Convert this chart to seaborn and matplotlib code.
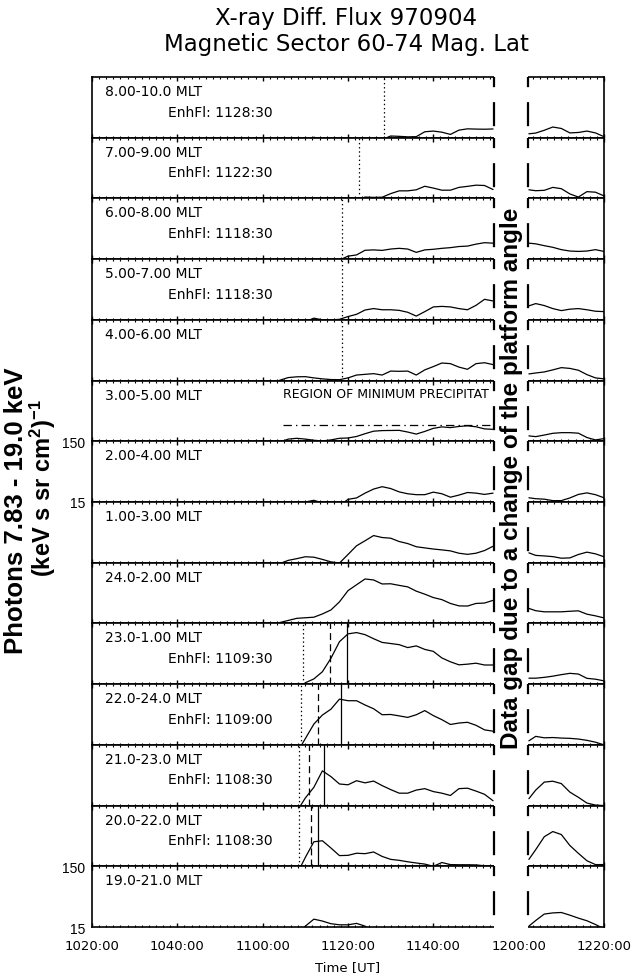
import numpy as np
import pandas as pd
import seaborn as sns
import matplotlib
matplotlib.use("Agg")
import matplotlib.pyplot as plt
from matplotlib import transforms
from matplotlib.lines import Line2D
from matplotlib.patches import Rectangle
from matplotlib.ticker import MultipleLocator, FuncFormatter, NullLocator

# tiempo en minutos desde las 10:00 UT
t_pre = [60, 62, 64, 66, 68, 70, 72, 74, 76, 78, 80, 82, 84, 86,
         88, 90, 92, 94, 96, 98, 100, 102, 104, 106, 108, 110, 112, 114]
t_post = [122.4, 124, 126, 128, 130, 132, 134, 136, 138, 140]
gap_start, gap_end = 114.3, 122.2   # hueco de datos (cambio de plataforma)

# flujo de fotones por sector MLT (primero antes del hueco, luego despues)
f_08_10 = [10, 10, 10, 10, 10, 10, 15.3, 14, 10, 10, 10, 10, 10, 10, 14, 16, 15.8, 15.5, 15.6, 18.8, 19.3, 18.5, 17, 20, 21, 20.8, 20.7, 20.9,
           17.4, 17.9, 19.9, 22.5, 21.3, 18, 18.3, 19.3, 18, 15.6]
f_07_09 = [10, 10, 10, 10, 10, 10, 15.3, 10, 10, 10, 10, 14, 15.8, 15.6, 15.7, 18, 20, 20, 20.8, 23.8, 22.2, 20.5, 20.5, 22.8, 23.7, 24.8, 24.5, 21,
           20.8, 20.1, 20.4, 22.8, 21.7, 17.8, 15.8, 19.4, 19, 16.5]
f_06_08 = [10, 10, 10, 10, 10, 10, 10, 10, 10, 14.5, 16.8, 17.6, 21, 21.3, 20.9, 22, 22.6, 22, 19.4, 21.3, 21.8, 22.6, 23.2, 24.2, 24.6, 26.5, 28, 27.5,
           27.5, 26.8, 25, 23.5, 21.5, 20.4, 20.1, 20.4, 21.5, 20.1]
f_05_07 = [10, 10, 10, 10, 10, 14, 16, 15, 15, 15.3, 17, 18.5, 21.8, 23, 22, 22, 21.5, 20, 17.3, 20.5, 24.5, 25, 24.5, 23, 22, 26, 32.7, 30.7,
           25.5, 27.8, 25.8, 23, 21.3, 22.5, 23, 22, 20.8, 20.5]
f_04_06 = [10, 10, 15.2, 16.8, 17.3, 17.4, 16.6, 16, 15.6, 15.5, 16.6, 18.5, 19, 19.5, 18.5, 21.5, 21.3, 21.5, 18.5, 22.5, 25.5, 29.2, 28.5, 25, 23, 28.5, 29.5, 27.5,
           19.3, 20, 20.8, 22.5, 24.5, 23.8, 22.2, 18.8, 16.6, 16]
f_03_05 = [10, 10, 14.5, 16.3, 16.8, 16.3, 15.6, 15.2, 15.8, 16.8, 17, 18, 20, 22, 22.5, 22.6, 22.7, 21.3, 19.7, 21.8, 24.5, 25.9, 25.2, 26.3, 27, 26, 24, 23.6,
           18.4, 17.9, 19, 20.3, 20.8, 20.8, 20.4, 17.3, 15.8, 16.6]
f_02_04 = [10, 10, 10, 10, 10, 15, 16, 14.5, 10, 13, 16.6, 17.5, 21, 24.5, 26.8, 25, 22, 20.5, 19.8, 19.8, 21.8, 20.5, 18, 19.5, 21.5, 21, 20, 21,
           17.6, 17, 16.7, 15.8, 15.8, 17.5, 20, 21.2, 19.8, 17.6]
f_01_03 = [10, 10, 14.5, 16.4, 17.5, 18.8, 18.5, 17, 15.5, 14.8, 20.5, 28.5, 34.5, 42, 39, 38, 33.5, 31, 27.5, 26.3, 25.2, 24.4, 23.5, 21.5, 20.6, 21.5, 23.8, 28,
           21.8, 19.8, 19.4, 18.9, 17.8, 18, 20.5, 22.4, 21, 18.8]
f_24_02 = [10, 10, 15.5, 16.8, 18.2, 18.6, 19, 21.5, 25, 34, 52, 65, 81, 78, 67, 67.5, 63.5, 60, 51, 45.5, 40, 37, 32, 29.2, 29, 32, 32.5, 36,
           26.5, 24.3, 23.3, 23.3, 23.3, 23.8, 24.2, 21.3, 20, 18.5]
f_23_01 = [10, 10, 10, 10, 12, 15.8, 18.3, 24, 40, 75, 101, 106, 98, 84, 73, 70, 67, 60, 64, 56, 52, 40.5, 35, 31.2, 32, 33.2, 31, 31,
           18.8, 18.8, 19.4, 20.3, 21.5, 22.6, 22, 18.7, 18.1, 17]
f_22_24 = [10, 10, 10, 10, 11, 19, 33, 46.5, 58, 85, 80, 80, 68, 59, 47, 47.5, 45, 42.5, 47, 55, 45.5, 39, 32.5, 34.3, 35.3, 31.5, 26.5, 25.2,
           17.5, 20.7, 19.6, 19.8, 19.4, 19.2, 18.7, 17.8, 16.6, 15]
f_21_23 = [10, 10, 10, 10, 12, 20, 30, 56, 45, 34, 33, 38.5, 35.5, 38, 32, 27.5, 24, 24, 27, 28.5, 25.5, 24, 22, 28.5, 29, 26, 23, 18,
           19.5, 27, 36.5, 37.8, 34.5, 25, 20.5, 16.5, 15.3, 15]
f_20_22 = [10, 10, 10, 10, 11, 21, 38, 39.5, 30, 22.5, 22.7, 24.6, 24.2, 25.8, 21.8, 19.5, 18.8, 17.8, 17, 16.3, 15, 17.3, 16, 15.9, 15.9, 15.8, 15.3, 15,
           19.5, 28.2, 46, 56, 50, 33, 24.5, 18.5, 16, 16]
f_19_21 = [10, 10, 10, 10, 10, 15.5, 20.2, 18.8, 17, 16.3, 16.3, 17.2, 15.5, 12, 10, 10, 15.2, 10, 10, 10, 10, 10, 10, 10, 10, 10, 10, 10,
           15.5, 19.2, 24.5, 25.6, 26, 23.5, 21, 19, 16.5, 14]

flujos = [f_08_10, f_07_09, f_06_08, f_05_07, f_04_06, f_03_05, f_02_04,
          f_01_03, f_24_02, f_23_01, f_22_24, f_21_23, f_20_22, f_19_21]

mlt_labels = ['8.00-10.0 MLT', '7.00-9.00 MLT', '6.00-8.00 MLT', '5.00-7.00 MLT',
              '4.00-6.00 MLT', '3.00-5.00 MLT', '2.00-4.00 MLT', '1.00-3.00 MLT',
              '24.0-2.00 MLT', '23.0-1.00 MLT', '22.0-24.0 MLT', '21.0-23.0 MLT',
              '20.0-22.0 MLT', '19.0-21.0 MLT']
enh_labels = ['1128:30', '1122:30', '1118:30', '1118:30', '', '', '', '', '',
              '1109:30', '1109:00', '1108:30', '1108:30', '']
onset_t = [88.5, 82.5, 78.5, 78.5, 78.5, None, None, None, None, 69.5, 69, 68.5, 68.5, None]
dashed_t = [None] * 9 + [75.7, 72.9, 70.9, 71.3, None]
solid_t = [None] * 9 + [79.8, 78.3, 74.3, 72.9, None]
ytick_panels = [6, 13]
ytick_vals = [15, 150]

region_panel = 5
region_start = 64.8
region_level = 27.5

sns.set_theme(style="ticks")
plt.rcParams['font.family'] = ['DejaVu Sans']
plt.rcParams['text.color'] = 'black'
plt.rcParams['axes.labelcolor'] = 'black'
plt.rcParams['xtick.color'] = 'black'
plt.rcParams['ytick.color'] = 'black'
plt.rcParams['lines.scale_dashes'] = False
plt.rcParams['mathtext.fontset'] = 'custom'
plt.rcParams['mathtext.rm'] = 'Liberation Sans:bold'
plt.rcParams['mathtext.default'] = 'rm'

fig, axes = plt.subplots(14, 1, figsize=(6.32, 9.78), dpi=100, sharex=True)
fig.subplots_adjust(left=92/632, right=604/632, top=1-78/978, bottom=1-928/978, hspace=0)

t_all = np.array(t_pre + t_post)


def etiqueta_hora(m, pos):
    m = int(round(m))
    return f"{10 + m // 60}{m % 60:02d}:00"


for i, ax in enumerate(axes):
    df = pd.DataFrame({'t': t_all, 'flujo': flujos[i]})
    sns.lineplot(data=df[df.t < gap_start], x='t', y='flujo', ax=ax, color='black',
                 lw=0.9, estimator=None)
    sns.lineplot(data=df[df.t > gap_end], x='t', y='flujo', ax=ax, color='black',
                 lw=0.9, estimator=None)
    ax.set_yscale('log')
    ax.set_ylim(15, 150)
    ax.set_xlim(20, 140)
    ax.set_xlabel('')
    ax.set_ylabel('')
    ax.yaxis.set_minor_locator(NullLocator())
    if i in ytick_panels:
        ax.set_yticks(ytick_vals)
        ax.set_yticklabels([str(v) for v in ytick_vals], fontsize=10, family='Liberation Sans')
    else:
        ax.set_yticks([])
    ax.tick_params(axis='y', length=0, pad=5)
    ax.xaxis.set_major_locator(MultipleLocator(20))
    ax.xaxis.set_minor_locator(MultipleLocator(20 / 12))
    ax.tick_params(axis='x', which='major', direction='in', top=True, bottom=True,
                   length=3, width=1, color='black')
    ax.tick_params(axis='x', which='minor', direction='in', top=True, bottom=True,
                   length=1.4, width=0.8, color='black')
    for sp in ax.spines.values():
        sp.set_visible(True)
        sp.set_linewidth(1.2)
        sp.set_color('black')

    # marcas verticales
    if onset_t[i] is not None:
        ax.axvline(onset_t[i], color='black', ls=(0, (1, 2)), lw=0.9)
    if dashed_t[i] is not None:
        ax.axvline(dashed_t[i], color='black', ls=(0, (5, 3)), lw=0.9)
    if solid_t[i] is not None:
        ax.axvline(solid_t[i], color='black', ls='-', lw=0.9)

    ax.text(0.025, 0.77, mlt_labels[i], transform=ax.transAxes, fontsize=10,
            va='center', ha='left')
    if enh_labels[i]:
        ax.text(0.148, 0.43, 'EnhFl: ' + enh_labels[i], transform=ax.transAxes,
                fontsize=10, va='center', ha='left')

    if i == region_panel:
        trans = transforms.blended_transform_factory(ax.transData, ax.transAxes)
        ax.text(region_start, 0.79, 'REGION OF MINIMUM PRECIPITAT', transform=trans,
                fontsize=9, va='center', ha='left')
        ax.hlines(region_level, region_start, gap_start, colors='black', lw=0.9,
                  linestyles=[(0, (6, 3, 1, 3))])

axes[-1].xaxis.set_major_formatter(FuncFormatter(etiqueta_hora))
axes[-1].tick_params(axis='x', labelsize=9.5, pad=9)

# hueco de datos: rectangulo blanco y lineas discontinuas
y0 = axes[-1].get_position().y0 - 0.002
y1 = axes[0].get_position().y1 + 0.003
gap_trans = transforms.blended_transform_factory(axes[0].transData, fig.transFigure)
fig.add_artist(Rectangle((gap_start, y0), gap_end - gap_start, y1 - y0,
                         transform=gap_trans, facecolor='white', edgecolor='none', zorder=2))
for ax in axes:
    tr = transforms.blended_transform_factory(ax.transData, ax.transAxes)
    for g in (gap_start, gap_end):
        fig.add_artist(Line2D([g, g], [1, 0], transform=tr, color='black', lw=1.6,
                              ls=(10, (17.3, 10.8)), zorder=3))
fig.text((gap_start + gap_end) / 2, 1 - 478/978, 'Data gap due to a change of the platform angle',
         transform=gap_trans, rotation=90, ha='center', va='center', fontsize=17.5,
         fontweight='bold', family='Liberation Sans', zorder=4)

fig.text(346/632, 1 - 18/978, 'X-ray Diff. Flux 970904', ha='center', va='center', fontsize=16.5)
fig.text(346/632, 1 - 45/978, 'Magnetic Sector 60-74 Mag. Lat', ha='center', va='center', fontsize=16.5)
fig.text(16/632, 1 - 511/978, 'Photons 7.83 - 19.0 keV', rotation=90, ha='center', va='center',
         fontsize=18.5, fontweight='bold', family='Liberation Sans')
fig.text(43/632, 1 - 488/978, r'(keV s sr cm$^2$)$^{-1}$', rotation=90, ha='center', va='center',
         fontsize=17, fontweight='bold', family='Liberation Sans')
fig.text(348/632, 1 - 968/978, 'Time [UT]', ha='center', va='center', fontsize=9.5)

fig.savefig('out.png', dpi=100)
